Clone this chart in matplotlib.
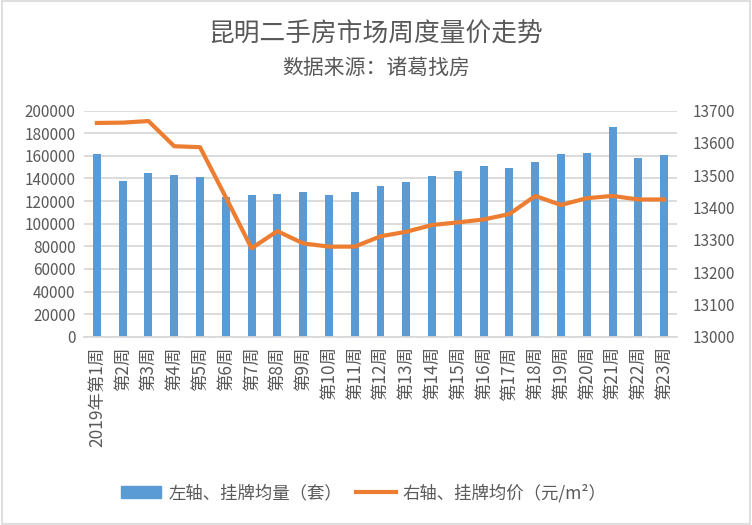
import matplotlib
matplotlib.use("Agg")
import matplotlib.pyplot as plt
from matplotlib.patches import Rectangle
from matplotlib.lines import Line2D

plt.rcParams['font.family'] = ['Noto Sans CJK SC', 'DejaVu Sans']

categories = ["2019年第1周"] + [f"第{i}周" for i in range(2, 24)]
volume = [161700, 137800, 144900, 143100, 141300, 123400, 125400, 126300, 128000,
          125400, 128000, 133400, 136900, 142200, 146600, 151100, 149300, 154600,
          161700, 162600, 185600, 158100, 160800]
price = [13662, 13663, 13668, 13590, 13587, 13432, 13274, 13327, 13289, 13279,
         13279, 13311, 13325, 13346, 13354, 13363, 13380, 13436, 13408, 13429,
         13436, 13425, 13425]

title = "昆明二手房市场周度量价走势"
subtitle = "数据来源：诸葛找房"
legend_labels = ["左轴、挂牌均量（套）", "右轴、挂牌均价（元/m²）"]

BLUE = "#5B9BD5"
ORANGE = "#ED7D31"
GRAY = "#595959"
GRID = "#D9D9D9"

fig = plt.figure(figsize=(7.52, 5.25), dpi=100)
fig.patches.append(Rectangle((0.002, 0.002), 0.996, 0.996, transform=fig.transFigure,
                             fill=False, edgecolor="#D9D9D9", linewidth=1.2))

ax = fig.add_axes([84 / 752, 188.3 / 525, 593 / 752, 226 / 525])
x = list(range(len(categories)))
ax.bar(x, volume, width=0.31, color=BLUE, zorder=2)
ax.set_xlim(-0.5, len(categories) - 0.5)
ax.set_ylim(0, 200000)
ax.set_yticks(range(0, 200001, 20000))
ax.yaxis.grid(True, color=GRID, linewidth=1.3, zorder=0)
ax.set_axisbelow(True)
for s in ax.spines.values():
    s.set_visible(False)
ax.spines['bottom'].set_visible(True)
ax.spines['bottom'].set_color(GRID)
ax.spines['bottom'].set_linewidth(1.3)
ax.tick_params(axis='both', length=0, colors=GRAY, labelsize=11)
ax.set_xticks(x)
ax.set_xticklabels(categories, rotation=90, va='top', ha='center', fontsize=12.5)
ax.tick_params(axis='x', pad=7)
ax.tick_params(axis='y', pad=6)

ax2 = ax.twinx()
ax2.plot(x, price, color=ORANGE, linewidth=3.0, solid_joinstyle='round', zorder=3)
ax2.set_ylim(13000, 13700)
ax2.set_yticks(range(13000, 13701, 100))
for s in ax2.spines.values():
    s.set_visible(False)
ax2.tick_params(axis='y', length=0, colors=GRAY, labelsize=11, pad=11)

fig.text(0.5, 1 - 35 / 525, title, ha='center', va='center', fontsize=18.5, color=GRAY)
fig.text(0.5, 1 - 68 / 525, subtitle, ha='center', va='center', fontsize=15, color=GRAY)

handles = [Rectangle((0, 0), 1, 1, color=BLUE), Line2D([0], [0], color=ORANGE, linewidth=3)]
fig.legend(handles, legend_labels, loc='center', bbox_to_anchor=(0.484, 1 - 493 / 525),
           ncol=2, frameon=False, fontsize=12.5, labelcolor=GRAY, handlelength=2.3,
           handleheight=0.7, handletextpad=0.4, columnspacing=0.8)

fig.savefig("out.png", dpi=100)
